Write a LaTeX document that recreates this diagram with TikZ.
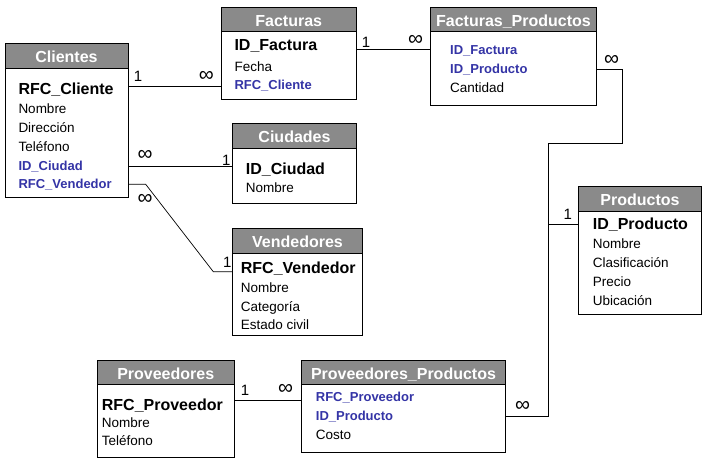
\documentclass[tikz,border=0pt]{standalone}
\usepackage{fontspec}
\setmainfont{Liberation Sans}
\usepackage[HTML]{xcolor}
\usetikzlibrary{positioning, fit}

\definecolor{encabezado}{HTML}{8A8A8A}
\definecolor{azulfk}{HTML}{3434A6}

\tikzset{
  tabla/.style={draw=black, fill=white, inner sep=0pt, line width=0.8pt},
  titulo/.style={draw=black, fill=encabezado, inner sep=0pt, line width=0.8pt},
  cabecera/.style={anchor=base, inner sep=0pt, text=white, font=\bfseries\fontsize{16}{16}\selectfont},
  campo/.style={anchor=base west, inner sep=0pt, font=\fontsize{13.5}{16}\selectfont},
  clave/.style={campo, font=\bfseries\fontsize{16}{19}\selectfont},
  foranea/.style={campo, text=azulfk, font=\bfseries\fontsize{13}{16}\selectfont},
  relacion/.style={draw=black, line width=0.7pt},
  uno/.style={anchor=base, inner sep=0pt, font=\fontsize{15}{15}\selectfont},
  muchos/.style={anchor=base, inner sep=0pt, font=\fontsize{21}{21}\selectfont},
}

% table: name, left, top, right, header bottom, bottom, title
\newcommand{\tabla}[7]{%
  \node[tabla, fit={(#2,#3) (#4,#6)}] (#1) {};
  \node[titulo, fit={(#2,#3) (#4,#5)}] (#1-t) {};
  \node[cabecera] (#1-n) at ([yshift=-6.8pt]#1-t.center) {#7};
}

\begin{document}
\begin{tikzpicture}[x=1pt, y=-1pt]
\useasboundingbox (0,0) rectangle (705,464);

% Clientes
\tabla{cli}{5}{43.5}{128}{68.5}{197.5}{Clientes}
\node[clave] (cli-1) at (18.3,94) {RFC\_Cliente};
\node[campo] (cli-2) at (18.3,113.3) {Nombre};
\node[campo] (cli-3) at (18.3,132.7) {Dirección};
\node[campo] (cli-4) at (18.3,151.7) {Teléfono};
\node[foranea] (cli-5) at (18.3,170) {ID\_Ciudad};
\node[foranea] (cli-6) at (18.3,188.7) {RFC\_Vendedor};

% Facturas
\tabla{fac}{221}{7}{356.5}{31.5}{99}{Facturas}
\node[clave] (fac-1) at (234.3,50.7) {ID\_Factura};
\node[campo] (fac-2) at (234.3,71) {Fecha};
\node[foranea] (fac-3) at (234.3,89) {RFC\_Cliente};

% Facturas_Productos
\tabla{fp}{430.5}{7}{596.5}{31.5}{105.5}{Facturas\_Productos}
\node[foranea] (fp-1) at (450,54.3) {ID\_Factura};
\node[foranea] (fp-2) at (450,73.3) {ID\_Producto};
\node[campo] (fp-3) at (450,92.3) {Cantidad};

% Ciudades
\tabla{ciu}{232.5}{123.5}{356.5}{148.5}{203.5}{Ciudades}
\node[clave] (ciu-1) at (245.7,174) {ID\_Ciudad};
\node[campo] (ciu-2) at (245.7,192.3) {Nombre};

% Vendedores
\tabla{ven}{232.5}{228.5}{362.5}{253}{335}{Vendedores}
\node[clave] (ven-1) at (240.7,273.3) {RFC\_Vendedor};
\node[campo] (ven-2) at (240.7,292.7) {Nombre};
\node[campo] (ven-3) at (240.7,311) {Categoría};
\node[campo] (ven-4) at (240.7,329.8) {Estado civil};

% Productos
\tabla{pro}{578.5}{186}{701.5}{211}{314.5}{Productos}
\node[clave] (pro-1) at (592.7,229.3) {ID\_Producto};
\node[campo] (pro-2) at (592.7,248.3) {Nombre};
\node[campo] (pro-3) at (592.7,267.3) {Clasificación};
\node[campo] (pro-4) at (592.7,286) {Precio};
\node[campo] (pro-5) at (592.7,305) {Ubicación};

% Proveedores
\tabla{prv}{97.5}{360}{234}{384.5}{457.5}{Proveedores}
\node[clave] (prv-1) at (101.7,410) {RFC\_Proveedor};
\node[campo] (prv-2) at (101.7,427.3) {Nombre};
\node[campo] (prv-3) at (101.7,445.7) {Teléfono};

% Proveedores_Productos
\tabla{pp}{301.5}{360}{505.5}{384.5}{452}{Proveedores\_Productos}
\node[foranea] (pp-1) at (315.7,401.7) {RFC\_Proveedor};
\node[foranea] (pp-2) at (315.7,420) {ID\_Producto};
\node[campo] (pp-3) at (315.7,439.3) {Costo};

% relaciones
\coordinate (q1) at (145.7,184.3);
\coordinate (q2) at (213.3,271.7);
\coordinate (q3) at (622,143.3);
\coordinate (q4) at (548.5,143.3);
\draw[relacion] (cli.east |- 0,86) -- (fac.west |- 0,86);
\draw[relacion] (cli.east |- 0,166) -- (ciu.west |- 0,166);
\draw[relacion] (cli.east |- q1) -- (q1) -- (q2) -- (ven.west |- q2);
\draw[relacion] (fac.east |- 0,49.3) -- (fp.west |- 0,49.3);
\draw[relacion] (fp.east |- 0,69) -| (q3) -- (q4) |- (pp.east |- 0,416.7);
\draw[relacion] (q4 |- 0,224.3) -- (pro.west |- 0,224.3);
\draw[relacion] (prv.east |- 0,400) -- (pp.west |- 0,400);

% cardinalidades
\node[uno] (u1) at (138,81.7) {1};
\node[muchos] (m1) at (206.3,81) {∞};
\node[muchos] (m2) at (145,160) {∞};
\node[uno] (u2) at (226.3,165.7) {1};
\node[muchos] (m3) at (145,204) {∞};
\node[uno] (u3) at (227.3,267.7) {1};
\node[uno] (u4) at (366,47.7) {1};
\node[muchos] (m4) at (415.7,45) {∞};
\node[muchos] (m5) at (611.7,65) {∞};
\node[uno] (u5) at (567.7,219.3) {1};
\node[muchos] (m6) at (522.5,411.7) {∞};
\node[uno] (u6) at (245,395) {1};
\node[muchos] (m7) at (285.5,394.3) {∞};

\end{tikzpicture}
\end{document}
